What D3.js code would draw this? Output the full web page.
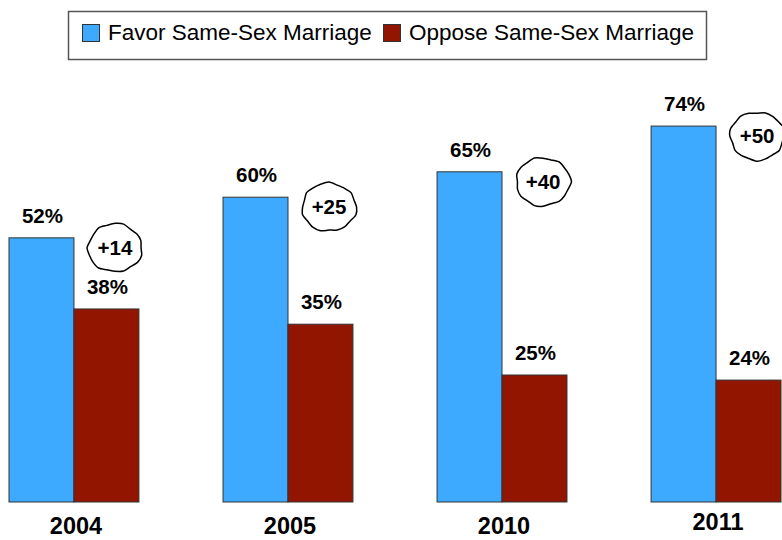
<!DOCTYPE html>
<html>
<head>
<meta charset="utf-8">
<script src="https://cdn.jsdelivr.net/npm/d3@7"></script>
<style>
  body { margin: 0; background: #fff; }
  svg { display: block; font-family: "Liberation Sans", Arial, sans-serif; }
</style>
</head>
<body>
<svg id="chart" width="782" height="540"></svg>
<script>
// data
var years = ["2004", "2005", "2010", "2011"];
var favor = [52, 60, 65, 74];
var oppose = [38, 35, 25, 24];
var seriesNames = ["Favor Same-Sex Marriage", "Oppose Same-Sex Marriage"];
var seriesKeys = ["favor", "oppose"];

var colors = { favor: "#3DAAFF", oppose: "#921500" };

var svg = d3.select("#chart");

var data = years.map(function(y, i) {
	return { year: y, favor: favor[i], oppose: oppose[i] };
});

// scales
var x = d3.scaleBand().domain(years).range([9, 781]).paddingInner(0.393).paddingOuter(0);
var xInner = d3.scaleBand().domain(seriesKeys).range([0, x.bandwidth()]);
var y = d3.scaleLinear().domain([0, 100]).range([502, -6]);

var g = svg.append("g");

var groups = g.selectAll(".grp")
	.data(data)
	.enter().append("g")
	.attr("class", "grp")
	.attr("transform", function(d) { return "translate(" + x(d.year) + ",0)"; });

// bars
groups.selectAll("rect")
	.data(function(d) { return seriesKeys.map(function(k) { return { key: k, value: d[k] }; }); })
	.enter().append("rect")
	.attr("x", function(d) { return xInner(d.key); })
	.attr("y", function(d) { return y(d.value); })
	.attr("width", xInner.bandwidth())
	.attr("height", function(d) { return y(0) - y(d.value); })
	.attr("fill", function(d) { return colors[d.key]; })
	.attr("stroke", "#333")
	.attr("stroke-width", 1);

// value labels
groups.selectAll(".val")
	.data(function(d) { return seriesKeys.map(function(k) { return { key: k, value: d[k] }; }); })
	.enter().append("text")
	.attr("class", "val")
	.attr("x", function(d) { return xInner(d.key) + xInner.bandwidth() / 2 + 1; })
	.attr("y", function(d) { return y(d.value) - 15; })
	.attr("text-anchor", "middle")
	.style("font-weight", "bold")
	.style("font-size", "20.5px")
	.text(function(d) { return d.value + "%"; });

// wavy bubble with difference
var wobble = d3.lineRadial()
	.curve(d3.curveCardinalClosed.tension(0.3))
	.angle(function(d) { return d[0]; })
	.radius(function(d) { return d[1]; });

groups.each(function(d, i) {
	var cx = 106, cy = y(d.favor) + 10;
	var pts = d3.range(20).map(function(k) {
		var a = k / 20 * Math.PI * 2;
		var r = 1 + 0.035 * Math.sin(a * 7 + i * 1.7) + 0.02 * Math.cos(a * 3 + i);
		return [a, r];
	});
	var b = d3.select(this).append("g").attr("transform", "translate(" + cx + "," + cy + ")");
	b.append("path")
		.attr("d", wobble(pts))
		.attr("transform", "scale(27,24)")
		.attr("fill", "#fff")
		.attr("stroke", "#000")
		.attr("stroke-width", 1.5)
		.attr("vector-effect", "non-scaling-stroke");
	b.append("text")
		.attr("text-anchor", "middle")
		.attr("y", 7)
		.style("font-weight", "bold")
		.style("font-size", "20.5px")
		.text("+" + (d.favor - d.oppose));
});

// year labels
g.selectAll(".year")
	.data(years)
	.enter().append("text")
	.attr("class", "year")
	.attr("x", function(d) { return x(d) + x.bandwidth() / 2 + 2; })
	.attr("y", function(d, i) { return i === years.length - 1 ? 530 : 534; })
	.attr("text-anchor", "middle")
	.style("font-weight", "bold")
	.style("font-size", "23.5px")
	.text(function(d) { return d; });

// legend
var legend = svg.append("g");
legend.append("rect")
	.attr("x", 68.5).attr("y", 11.5)
	.attr("width", 638).attr("height", 48)
	.attr("fill", "#fff")
	.attr("stroke", "#555")
	.attr("stroke-width", 1.5);

var legendX = [82, 383];
seriesKeys.forEach(function(k, i) {
	legend.append("rect")
		.attr("x", legendX[i] + 0.5).attr("y", 24.5)
		.attr("width", 17).attr("height", 17)
		.attr("fill", colors[k])
		.attr("stroke", "#333")
		.attr("stroke-width", 1);
	legend.append("text")
		.attr("x", legendX[i] + 26)
		.attr("y", 40)
		.style("font-size", "22.5px")
		.text(seriesNames[i]);
});
</script>
</body>
</html>
